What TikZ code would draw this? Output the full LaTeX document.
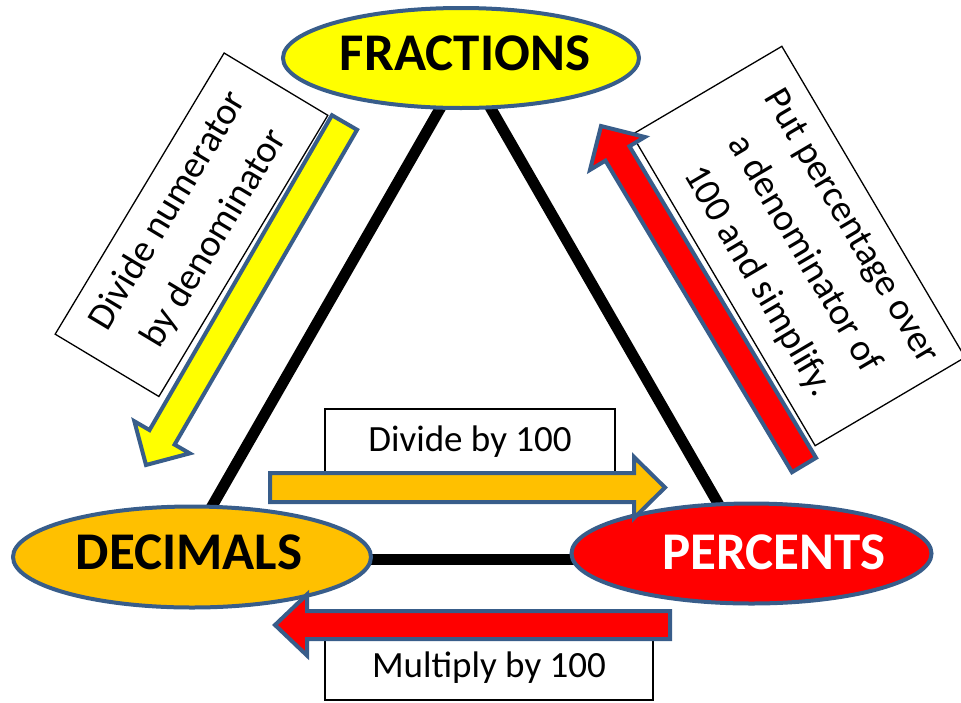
\documentclass[tikz,border=0pt]{standalone}
\usepackage{fontspec}
\setmainfont{Carlito}
\usetikzlibrary{shapes.geometric,calc}
\definecolor{edgeblue}{RGB}{56,93,138}
\definecolor{myorange}{RGB}{255,192,0}
\definecolor{myyellow}{RGB}{255,255,0}
\definecolor{myred}{RGB}{255,0,0}
\tikzset{
  oval/.style={ellipse, draw=edgeblue, line width=4pt, inner sep=0pt},
  bigtext/.style={font=\bfseries\fontsize{53}{60}\selectfont, inner sep=0pt},
  notebox/.style={draw=black, line width=1.3pt, fill=white, align=center, inner sep=0pt, font=\fontsize{37}{52}\selectfont},
  slanttext/.style={align=center, inner sep=0pt, font=\fontsize{38}{54}\selectfont},
  arrowline/.style={draw=edgeblue, line width=4pt, line join=miter},
  triline/.style={line width=11pt, black},
}
% #1 tail, #2 tip, #3 half shaft width, #4 half head width, #5 head length, #6 fill
\newcommand\fatarrow[6]{%
  \coordinate (fa-c) at ($(#2)!#5!(#1)$);
  \draw[arrowline, fill=#6] ($(#1)!#3!90:(#2)$) -- ($(fa-c)!#3!-90:(#1)$) -- ($(fa-c)!#4!-90:(#1)$) -- (#2)
     -- ($(fa-c)!#4!90:(#1)$) -- ($(fa-c)!#3!90:(#1)$) -- ($(#1)!#3!-90:(#2)$) -- cycle;}
\begin{document}
\begin{tikzpicture}[x=1pt,y=-1pt]
\useasboundingbox (0,0) rectangle (961,702);
% triangle sides
\coordinate (lt) at (445,100);
\coordinate (lb) at (207,515);
\coordinate (rt) at (486,100);
\coordinate (rb) at (723,512);
\coordinate (bl) at (360,559);
\coordinate (br) at (590,559);
\draw[triline] (lt) -- (lb);
\draw[triline] (rt) -- (rb);
\draw[triline] (bl) -- (br);
% ellipses
\node[oval, fill=myyellow, minimum width=356pt, minimum height=100pt] (frac) at (461,58) {};
\node[bigtext] (fract) at (465,53.5) {FRACTIONS};
\node[oval, fill=myorange, minimum width=358pt, minimum height=101pt] (dec) at (192,557) {};
\node[bigtext] (dect) at (189,552.5) {DECIMALS};
\node[oval, fill=myred, minimum width=360pt, minimum height=100pt] (perc) at (751.5,553.5) {};
\node[bigtext, text=white] (perct) at (774,552.5) {PERCENTS};
% note boxes
\node[notebox, rotate=59, minimum width=328pt, minimum height=121pt] (lbox) at (191.5,224.75) {};
\node[slanttext, rotate=59] (lboxt) at (191.5,224.75) {Divide numerator\\by denominator};
\node[notebox, rotate=-59.5, minimum width=361pt, minimum height=174pt] (rbox) at (798.5,246) {};
\node[slanttext, rotate=-59.5] (rboxt) at (803.5,254.5) {Put percentage over\\a denominator of\\100 and simplify.};
\node[notebox, minimum width=290pt, minimum height=66pt] (tbox) at (470,442) {Divide by 100};
\node[notebox, minimum width=328pt, minimum height=64pt] (mbox) at (489,668) {Multiply by 100};
% fat arrows
\coordinate (ya) at (344.5,122.5); \coordinate (yb) at (146,465);
\fatarrow{ya}{yb}{14.5pt}{32pt}{32pt}{myyellow}
\coordinate (oa) at (270,487.5); \coordinate (ob) at (665,487.5);
\fatarrow{oa}{ob}{14.5pt}{30.5pt}{31pt}{myorange}
\coordinate (ma) at (670,625); \coordinate (mb) at (275,625);
\fatarrow{ma}{mb}{14pt}{30.5pt}{32pt}{myred}
\coordinate (pa) at (804,465); \coordinate (pb) at (601,126);
\fatarrow{pa}{pb}{14pt}{32pt}{32pt}{myred}
\end{tikzpicture}
\end{document}
